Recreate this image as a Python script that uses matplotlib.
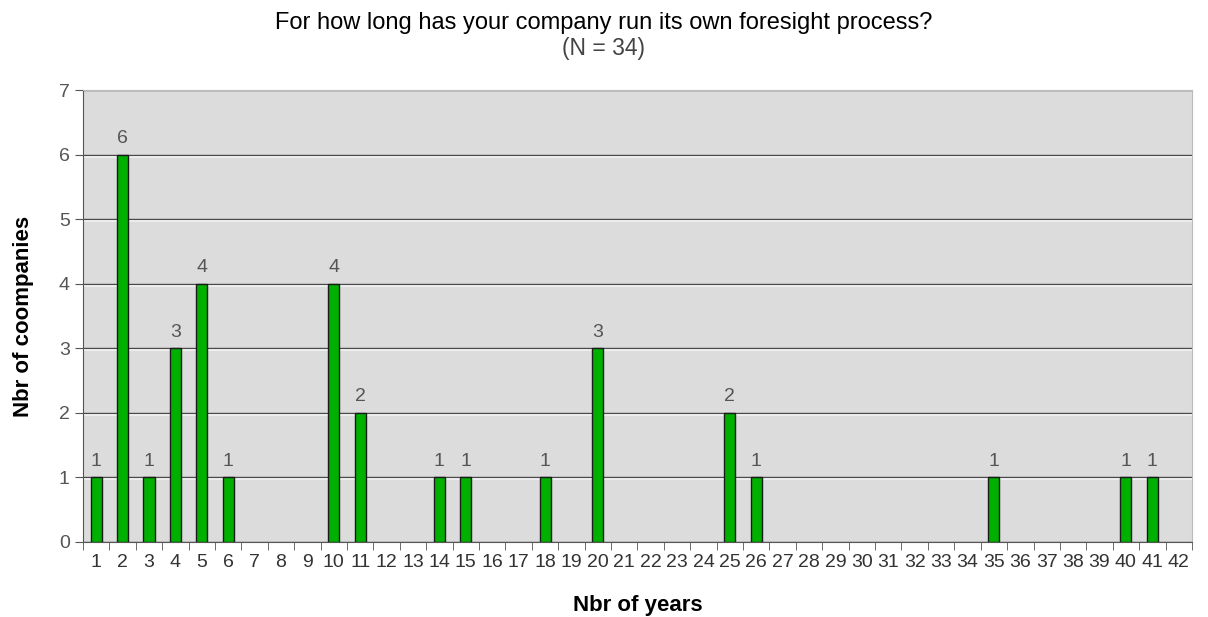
import numpy as np
import matplotlib
matplotlib.use("Agg")
import matplotlib.pyplot as plt

plt.rcParams["font.family"] = ["Liberation Sans", "DejaVu Sans"]

# Years running a foresight process -> number of companies
years = list(range(1, 43))
counts = [1, 6, 1, 3, 4, 1, 0, 0, 0, 4, 2, 0, 0, 1, 1, 0, 0, 1, 0, 3,
          0, 0, 0, 0, 2, 1, 0, 0, 0, 0, 0, 0, 0, 0, 1, 0, 0, 0, 0, 1,
          1, 0]

fig = plt.figure(figsize=(12.08, 6.17), dpi=100)
ax = fig.add_axes([0.0687, 0.1216, 0.918, 0.7325])
ax.set_facecolor("#dcdcdc")

x = np.arange(len(years))
counts = np.array(counts)
has = counts > 0
ax.bar(x[has], counts[has], width=0.42, color="#00b000",
       edgecolor="#1a1a1a", linewidth=1.0, zorder=3)

for xi, c in zip(x[has], counts[has]):
    ax.text(xi, c + 0.12, str(c), ha="center", va="bottom",
            fontsize=14, color="#555555", zorder=4)

ax.set_xlim(-0.5, len(years) - 0.5)
ax.set_ylim(0, 7)
ax.set_yticks(range(0, 8))
# light highlight under each dark gridline
for yv in range(1, 7):
    ax.axhline(yv - 0.03, color="#f2f2f2", linewidth=1.2, zorder=1)
ax.yaxis.grid(True, color="#4a4a4a", linewidth=1.0, zorder=2)
ax.set_axisbelow(True)

# category labels centred, tick marks at the boundaries
ax.set_xticks(x)
ax.set_xticklabels([str(y) for y in years])
ax.set_xticks(np.arange(-0.5, len(years)), minor=True)
ax.tick_params(axis="x", which="major", length=0, pad=9,
               labelsize=14, labelcolor="#333333")
ax.tick_params(axis="x", which="minor", length=6, color="#555555",
               direction="out")
ax.tick_params(axis="y", length=6, color="#555555", labelsize=14,
               labelcolor="#555555")

for side in ["top", "right"]:
    ax.spines[side].set_color("#bbbbbb")
for side in ["left", "bottom"]:
    ax.spines[side].set_color("#555555")

ax.set_xlabel("Nbr of years", fontsize=16, fontweight="bold", labelpad=17)
ax.set_ylabel("Nbr of coompanies", fontsize=16, fontweight="bold", labelpad=18)

fig.text(0.5, 0.962, "For how long has your company run its own foresight process?",
         ha="center", va="center", fontsize=17)
fig.text(0.5, 0.922, "(N = 34)", ha="center", va="center", fontsize=16.5,
         color="#444444")

fig.savefig("out.png", dpi=100)
